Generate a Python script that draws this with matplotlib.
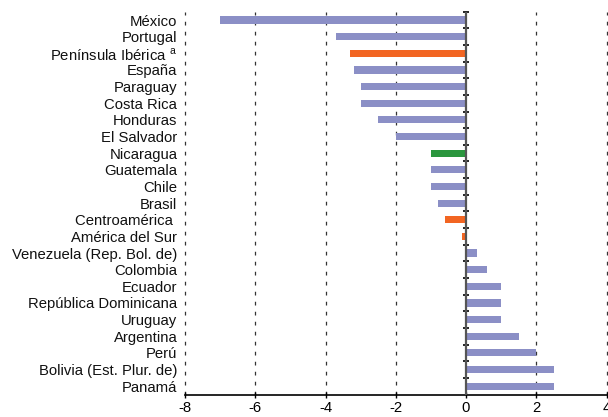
import matplotlib
matplotlib.use("Agg")
import matplotlib.pyplot as plt

plt.rcParams['font.family'] = ['Liberation Sans', 'DejaVu Sans']
plt.rcParams['mathtext.fontset'] = 'custom'
plt.rcParams['mathtext.rm'] = 'Liberation Sans'

categories = ["México", "Portugal", r"Península Ibérica $^{\mathrm{a}}$", "España", "Paraguay",
              "Costa Rica", "Honduras", "El Salvador", "Nicaragua", "Guatemala", "Chile",
              "Brasil", "Centroamérica ", "América del Sur", "Venezuela (Rep. Bol. de)",
              "Colombia", "Ecuador", "República Dominicana", "Uruguay", "Argentina", "Perú",
              "Bolivia (Est. Plur. de)", "Panamá"]
values = [-7.0, -3.7, -3.3, -3.2, -3.0, -3.0, -2.5, -2.0, -1.0, -1.0, -1.0, -0.8, -0.6,
          -0.1, 0.3, 0.6, 1.0, 1.0, 1.0, 1.5, 2.0, 2.5, 2.5]
groups = ["c", "c", "r", "c", "c", "c", "c", "c", "n", "c", "c", "c", "r", "r", "c", "c",
          "c", "c", "c", "c", "c", "c", "c"]
xticks = [-8, -6, -4, -2, 0, 2, 4]

palette = {"c": "#8B8FC6", "r": "#F26522", "n": "#2A963E"}
colors = [palette[g] for g in groups]

fig = plt.figure(figsize=(6.08, 4.17), dpi=100)
ax = fig.add_axes([185 / 608, 1 - 394.5 / 417, (606.5 - 185) / 608, (394.5 - 11.7) / 417])

ypos = list(range(len(categories)))
ax.barh(ypos, values, height=0.43, color=colors, zorder=3)

ax.set_xlim(-8, 4)
ax.set_ylim(len(categories) - 0.5, -0.5)
ax.set_yticks(ypos)
ax.set_yticklabels(categories, fontsize=10.7, color="#111111")
ax.tick_params(axis='y', length=0, pad=5.5)
ax.set_xticks(xticks)
ax.set_xticklabels([str(t) for t in xticks], fontsize=10.7)
ax.tick_params(axis='x', direction='inout', length=5, width=1, pad=2)

for s in ['left', 'right', 'top']:
    ax.spines[s].set_visible(False)
ax.spines['bottom'].set_linewidth(1.2)

for t in xticks:
    if t != 0:
        ax.axvline(t, color="#333333", linewidth=0.9, linestyle=(0, (3, 5)), zorder=1,
                   clip_on=False)
ax.axvline(0, color="#555555", linewidth=1.6, zorder=4)

loc = (0 - xticks[0]) / (xticks[-1] - xticks[0])
sec = ax.secondary_yaxis(loc)
sec.set_yticks([y + 0.5 for y in ypos[:-1]] + [-0.5])
sec.set_yticklabels([])
sec.tick_params(direction='inout', length=5, width=1.2)
sec.spines['right'].set_visible(False)
sec.spines['left'].set_visible(False)

fig.text(0.0, 1 + 3.5 / 417, "(en puntos porcentuales y ...)", fontsize=10.7,
         ha='left', va='baseline')

fig.savefig("out.png", dpi=100)
